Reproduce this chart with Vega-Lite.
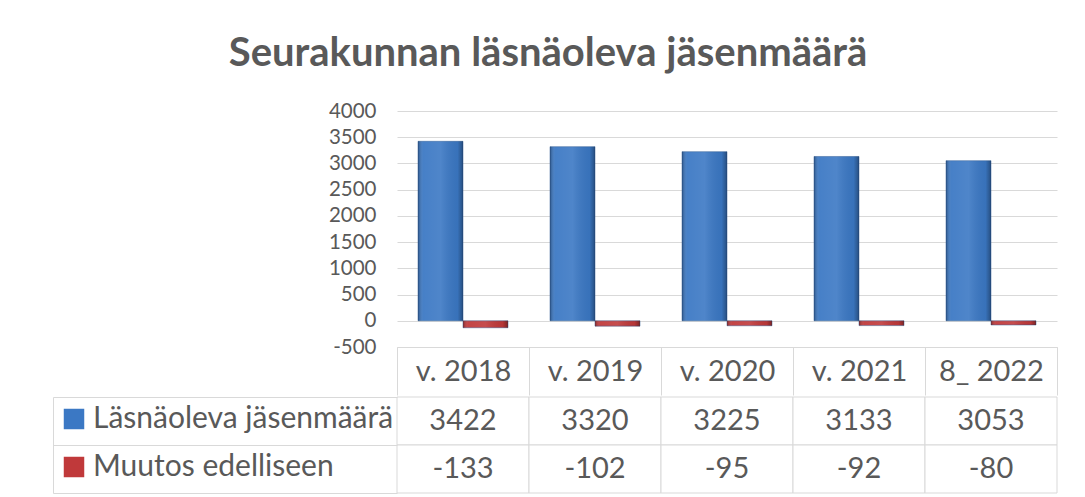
{
  "$schema": "https://vega.github.io/schema/vega-lite/v6.json",
  "background": "white",
  "padding": {"left": 52, "top": 34, "right": 5, "bottom": 5},
  "title": {
    "text": "Seurakunnan läsnäoleva jäsenmäärä",
    "font": "Lato",
    "fontSize": 40,
    "fontWeight": "bold",
    "color": "#595959",
    "anchor": "middle",
    "offset": 27,
    "dx": -7
  },
  "data": {
    "values": [
      {"year": "v. 2018", "series": "Läsnäoleva jäsenmäärä", "value": 3422},
      {"year": "v. 2019", "series": "Läsnäoleva jäsenmäärä", "value": 3320},
      {"year": "v. 2020", "series": "Läsnäoleva jäsenmäärä", "value": 3225},
      {"year": "v. 2021", "series": "Läsnäoleva jäsenmäärä", "value": 3133},
      {"year": "8_ 2022", "series": "Läsnäoleva jäsenmäärä", "value": 3053},
      {"year": "v. 2018", "series": "Muutos edelliseen", "value": -133},
      {"year": "v. 2019", "series": "Muutos edelliseen", "value": -102},
      {"year": "v. 2020", "series": "Muutos edelliseen", "value": -95},
      {"year": "v. 2021", "series": "Muutos edelliseen", "value": -92},
      {"year": "8_ 2022", "series": "Muutos edelliseen", "value": -80}
    ]
  },
  "spacing": 0,
  "vconcat": [
    {
      "width": 660,
      "height": 236,
      "encoding": {
        "x": {
          "field": "year",
          "type": "nominal",
          "sort": ["v. 2018", "v. 2019", "v. 2020", "v. 2021", "8_ 2022"],
          "scale": {"paddingInner": 0, "paddingOuter": 0},
          "axis": {
            "title": null,
            "orient": "bottom",
            "domain": true,
            "domainColor": "#d9d9d9",
            "ticks": true,
            "tickBand": "extent",
            "tickSize": 48,
            "tickColor": "#d9d9d9",
            "labelFont": "Lato",
            "labelFontSize": 29,
            "labelColor": "#595959",
            "labelAngle": 0,
            "labelBaseline": "middle",
            "labelPadding": -24,
            "grid": false
          }
        },
        "xOffset": {
          "field": "series",
          "type": "nominal",
          "sort": ["Läsnäoleva jäsenmäärä", "Muutos edelliseen"],
          "scale": {"paddingInner": 0, "paddingOuter": 0.4667}
        },
        "y": {
          "field": "value",
          "type": "quantitative",
          "scale": {"domain": [-500, 4000], "nice": false, "zero": false},
          "axis": {
            "title": null,
            "values": [-500, 0, 500, 1000, 1500, 2000, 2500, 3000, 3500, 4000],
            "labelExpr": "'' + datum.value",
            "domain": false,
            "ticks": false,
            "grid": true,
            "gridColor": "#d9d9d9",
            "labelFont": "Lato",
            "labelFontSize": 20.5,
            "labelColor": "#595959",
            "labelPadding": 21
          }
        }
      },
      "layer": [
        {
          "mark": {"type": "bar", "stroke": "#2b568f", "strokeWidth": 0.8, "strokeOpacity": 0.6},
          "encoding": {
            "color": {
              "field": "series",
              "type": "nominal",
              "scale": {
                "domain": ["Läsnäoleva jäsenmäärä", "Muutos edelliseen"],
                "range": ["#3b78c4", "#c0393a"]
              },
              "legend": {
                "orient": "none",
                "legendX": -338,
                "legendY": 293,
                "title": null,
                "symbolType": "square",
                "symbolSize": 420,
                "symbolStrokeWidth": 0,
                "labelFont": "Lato",
                "labelFontSize": 30,
                "labelColor": "#595959",
                "labelOffset": 4,
                "labelLimit": 500,
                "rowPadding": 18,
                "padding": 0
              }
            }
          }
        },
        {
          "mark": {
            "type": "bar",
            "fill": {
              "gradient": "linear",
              "x1": 0, "y1": 0, "x2": 1, "y2": 0,
              "stops": [
                {"offset": 0, "color": "rgba(0,0,0,0.30)"},
                {"offset": 0.12, "color": "rgba(255,255,255,0.06)"},
                {"offset": 0.5, "color": "rgba(255,255,255,0.10)"},
                {"offset": 0.88, "color": "rgba(0,0,0,0.05)"},
                {"offset": 1, "color": "rgba(0,0,0,0.35)"}
              ]
            }
          },
          "encoding": {}
        }
      ]
    },
    {
      "width": 660,
      "height": 96,
      "encoding": {
        "x": {
          "field": "year",
          "type": "nominal",
          "sort": ["v. 2018", "v. 2019", "v. 2020", "v. 2021", "8_ 2022"],
          "scale": {"paddingInner": 0, "paddingOuter": 0},
          "axis": null
        },
        "y": {
          "field": "series",
          "type": "nominal",
          "sort": ["Läsnäoleva jäsenmäärä", "Muutos edelliseen"],
          "scale": {"paddingInner": 0, "paddingOuter": 0},
          "axis": {
            "title": null,
            "labels": false,
            "domain": true,
            "domainColor": "#d9d9d9",
            "ticks": true,
            "tickBand": "extent",
            "tickSize": -344,
            "tickColor": "#d9d9d9",
            "offset": 344,
            "grid": false
          }
        }
      },
      "layer": [
        {"mark": {"type": "rect", "fill": "white", "stroke": "#d9d9d9", "strokeWidth": 1}},
        {
          "mark": {"type": "text", "font": "Lato", "fontSize": 29, "color": "#595959"},
          "encoding": {"text": {"field": "value", "type": "nominal"}}
        }
      ]
    }
  ],
  "config": {
    "view": {"stroke": null},
    "font": "Lato"
  }
}
